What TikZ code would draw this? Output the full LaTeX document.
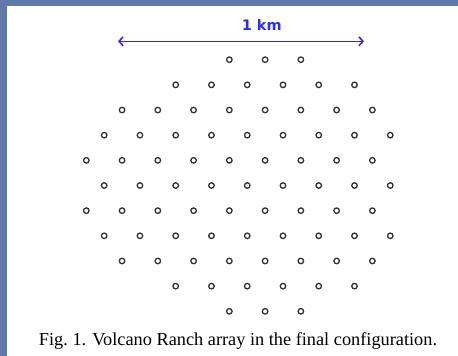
\documentclass[tikz,border=0pt]{standalone}
\usepackage{fontspec}
\setmainfont{Liberation Serif}
\newfontfamily\labelfont{DejaVu Sans}
\usetikzlibrary{arrows.meta}
\definecolor{slideblue}{RGB}{96,121,166}
\definecolor{scaleblue}{RGB}{45,45,235}
\definecolor{dotgray}{RGB}{50,50,50}
\tikzset{
  det/.style={circle,draw=dotgray,line width=1.3pt,inner sep=0pt,minimum size=5.5pt},
  scalebar/.style={draw=scaleblue,line width=1.6pt,{Straight Barb[length=4pt,width=9pt,line width=1.6pt]}-{Straight Barb[length=4pt,width=9pt,line width=1.6pt]}},
}
\begin{document}
\begin{tikzpicture}[x=1pt,y=-1pt]
\useasboundingbox (0,0) rectangle (458,356);
\fill[slideblue] (0,0) rectangle (458,356);
\fill[white] (7,6) rectangle (458,356);
% scale bar
\coordinate (sl) at (118,41.3);
\coordinate (sr) at (364,41.3);
\draw[scalebar] (sl) -- (sr);
\node[text=scaleblue,font=\labelfont\bfseries\fontsize{14.5}{15}\selectfont] (km) at (261.7,24.5) {1 km};
% detectors
\foreach \row/\ks in {
  0/{8,10,12},
  1/{5,7,9,11,13,15},
  2/{2,4,6,8,10,12,14,16},
  3/{1,3,5,7,9,11,13,15,17},
  4/{0,2,4,6,8,10,12,14,16},
  5/{1,3,5,7,9,11,13,15,17},
  6/{0,2,4,6,8,10,12,14,16},
  7/{1,3,5,7,9,11,13,15,17},
  8/{2,4,6,8,10,12,14,16},
  9/{5,7,9,11,13,15},
  10/{8,10,12}}{
  \foreach \k in \ks {
    \node[det] (d-\row-\k) at ({86.3+\k*17.88},{59.7+\row*25.16}) {};
  }
}
\node[font=\fontsize{18.3}{19}\selectfont,inner sep=0pt] (cap) at (238,341.5) {Fig.\ 1. Volcano Ranch array in the final configuration.};
\end{tikzpicture}
\end{document}
